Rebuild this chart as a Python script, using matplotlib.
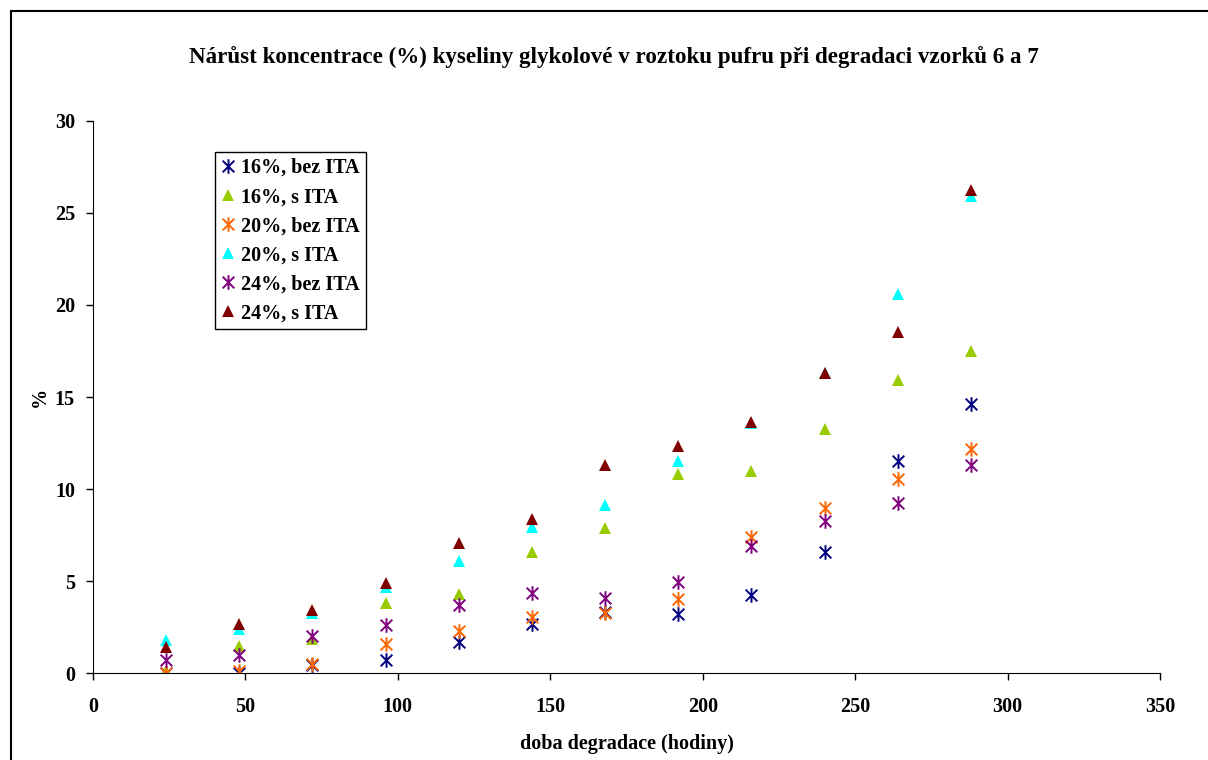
import matplotlib
matplotlib.use("Agg")
import matplotlib.pyplot as plt
from matplotlib.path import Path
from matplotlib.patches import Rectangle

# === DATA ===
hours = [24, 48, 72, 96, 120, 144, 168, 192, 216, 240, 264, 288]

c16_bez = [0.0, 0.0, 0.45, 0.7, 1.7, 2.7, 3.35, 3.2, 4.25, 6.6, 11.55, 14.6]
c16_s = [0.15, 1.5, 1.85, 3.8, 4.3, 6.6, 7.9, 10.8, 11.0, 13.25, 15.9, 17.5]
c20_bez = [0.0, 0.1, 0.5, 1.6, 2.3, 3.05, 3.3, 4.05, 7.4, 8.95, 10.55, 12.2]
c20_s = [1.8, 2.4, 3.25, 4.7, 6.1, 7.95, 9.15, 11.5, 13.6, 16.3, 20.6, 25.9]
c24_bez = [0.7, 1.0, 2.0, 2.6, 3.7, 4.35, 4.1, 4.95, 6.9, 8.25, 9.25, 11.3]
c24_s = [1.45, 2.65, 3.45, 4.9, 7.05, 8.4, 11.3, 12.35, 13.65, 16.3, 18.55, 26.25]

labels = ["16%, bez ITA", "16%, s ITA", "20%, bez ITA", "20%, s ITA", "24%, bez ITA", "24%, s ITA"]
colors = ["#000080", "#99CC00", "#FF6600", "#00FFFF", "#800080", "#800000"]

title = "Nárůst koncentrace (%) kyseliny glykolové v roztoku pufru při degradaci vzorků 6 a 7"
xlabel = "doba degradace (hodiny)"
ylabel = "%"

# Excel-like star marker: vertical bar + X
star = Path([(0, -1), (0, 1), (-0.8, -0.8), (0.8, 0.8), (-0.8, 0.8), (0.8, -0.8)],
            [Path.MOVETO, Path.LINETO, Path.MOVETO, Path.LINETO, Path.MOVETO, Path.LINETO])

plt.rcParams['font.family'] = ['Liberation Serif', 'DejaVu Serif']
plt.rcParams['font.weight'] = 'bold'
FS = 14.5

fig = plt.figure(figsize=(12.08, 7.6), dpi=100)
ax = fig.add_axes([93 / 1208, 1 - 673.3 / 760, (1160 - 93) / 1208, (673.3 - 120.7) / 760])

series = [c16_bez, c16_s, c20_bez, c20_s, c24_bez, c24_s]
for vals, lab, col in zip(series, labels, colors):
    if "bez" in lab:
        ax.plot(hours, vals, linestyle="none", marker=star, markersize=10.5,
                markeredgewidth=1.4, color=col, label=lab)
    else:
        ax.plot(hours, vals, linestyle="none", marker="^", markersize=8.5,
                markeredgewidth=0, color=col, label=lab)

ax.set_xlim(0, 350)
ax.set_ylim(0, 30)
ax.set_xticks(range(0, 351, 50))
ax.set_yticks(range(0, 31, 5))
ax.spines["top"].set_visible(False)
ax.spines["right"].set_visible(False)
ax.tick_params(direction="out", length=5, width=1, colors="black", labelsize=FS)
ax.tick_params(axis="x", pad=12)
ax.tick_params(axis="y", pad=8)
for lbl in ax.get_xticklabels() + ax.get_yticklabels():
    lbl.set_fontweight("bold")

ax.set_xlabel(xlabel, fontsize=FS, fontweight="bold", labelpad=12)
ax.text(40 / 1208, 1 - 397 / 760, ylabel, transform=fig.transFigure, rotation=90,
        ha="center", va="center", fontsize=FS, fontweight="bold")

fig.text(614 / 1208, 1 - 57 / 760, title, ha="center", va="center",
         fontsize=16.6, fontweight="bold")

leg = ax.legend(loc="upper left", bbox_to_anchor=((215 - 93) / 1067, (673.3 - 152) / 552.6),
                fontsize=FS, frameon=True, fancybox=False, framealpha=1,
                edgecolor="black", borderpad=0.3, labelspacing=0.45,
                handlelength=0.7, handletextpad=0.3, borderaxespad=0)
leg.get_frame().set_linewidth(1)

# outer chart frame
fig.patches.append(Rectangle((11 / 1208, -0.1), 1.2, 1 - 11 / 760 + 0.1,
                             transform=fig.transFigure, fill=False,
                             edgecolor="black", linewidth=1.5, zorder=0))

fig.savefig("out.png", dpi=100)
